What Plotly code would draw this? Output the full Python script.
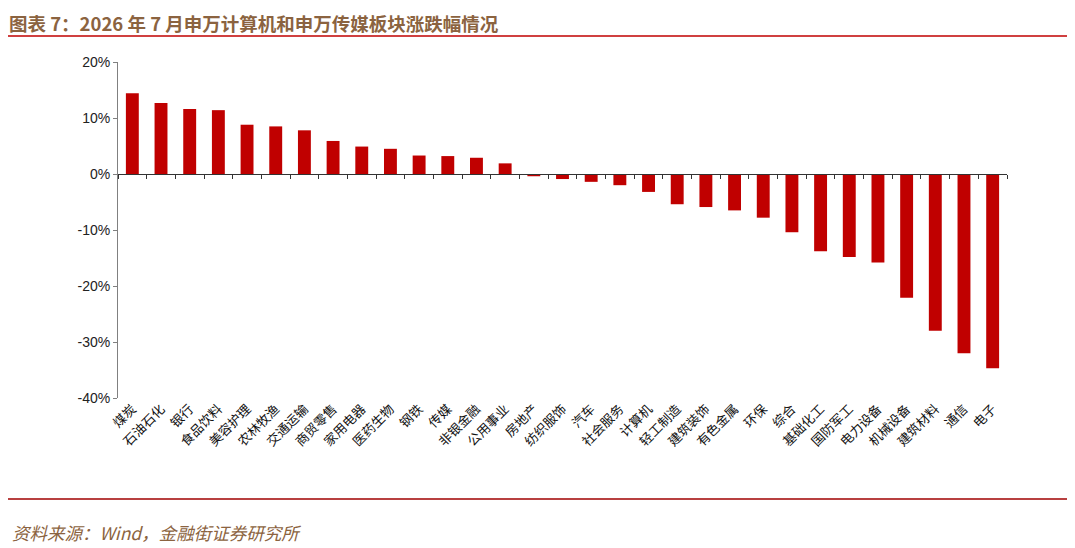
import plotly.graph_objects as go

# 申万一级行业 2026年7月涨跌幅 (%)
industries = ['煤炭', '石油石化', '银行', '食品饮料', '美容护理', '农林牧渔', '交通运输', '商贸零售',
              '家用电器', '医药生物', '钢铁', '传媒', '非银金融', '公用事业', '房地产', '纺织服饰',
              '汽车', '社会服务', '计算机', '轻工制造', '建筑装饰', '有色金属', '环保', '综合',
              '基础化工', '国防军工', '电力设备', '机械设备', '建筑材料', '通信', '电子']
change_pct = [14.4, 12.7, 11.6, 11.4, 8.8, 8.5, 7.8, 5.9,
              4.9, 4.5, 3.3, 3.2, 2.9, 1.9, -0.4, -0.9,
              -1.4, -2.0, -3.2, -5.4, -5.9, -6.5, -7.8, -10.4,
              -13.8, -14.8, -15.8, -22.1, -28.0, -32.0, -34.7]
y_ticks = [20, 10, 0, -10, -20, -30, -40]

title_text = '图表 7：2026 年 7 月申万计算机和申万传媒板块涨跌幅情况'
source_text = '资料来源：Wind，金融街证券研究所'

# page body has an 8px margin, so the figure is a bit smaller and shifted
OFF = 8
W, H = 1075 - OFF, 548 - OFF
L, R, T, B = 118 - OFF, 68, 62 - OFF, 150


# screen pixel -> paper helpers for the decorations outside the plot
def px(x):
    return (x - OFF - L) / (W - L - R)


def py(y):
    return (H - B - (y - OFF)) / (H - B - T)


cjk = 'Noto Sans CJK SC'
brown = '#8B6340'
red = '#C00000'

fig = go.Figure()
fig.add_trace(go.Bar(x=industries, y=change_pct, marker_color=red,
                     marker_line_width=0, showlegend=False))
# dummy trace so the zero-line axis (ticks between categories) is drawn
fig.add_trace(go.Scatter(x=industries, y=[0] * len(industries), xaxis='x2',
                         mode='markers', marker_opacity=0, showlegend=False,
                         hoverinfo='skip'))

fig.update_layout(
    width=W, height=H,
    margin={'l': L, 'r': R, 't': T, 'b': B},
    plot_bgcolor='white', paper_bgcolor='white',
    bargap=0.55,
    xaxis=dict(type='category', range=[-0.5, len(industries) - 0.5],
               tickangle=-45, showline=False, ticks='', showgrid=False,
               tickfont=dict(family=cjk, size=13, color='#111')),
    xaxis2=dict(type='category', overlaying='x', anchor='free',
                position=40 / 60, range=[-0.5, len(industries) - 0.5],
                showline=True, linecolor='#333', linewidth=1,
                ticks='outside', tickson='boundaries', ticklen=4,
                tickcolor='#333', showticklabels=False, showgrid=False),
    yaxis=dict(range=[-40, 20], tickvals=y_ticks,
               ticktext=[f'{v}%' for v in y_ticks],
               showline=True, linecolor='#808080', linewidth=1,
               ticks='outside', ticklen=4, tickcolor='#808080',
               showgrid=False, zeroline=False,
               tickfont=dict(family='Liberation Sans, Arial', size=14, color='#222')),
)

fig.add_annotation(text=f'<b>{title_text}</b>', xref='paper', yref='paper',
                   x=px(8), y=py(8.5), xanchor='left', yanchor='top',
                   borderpad=0, showarrow=False,
                   font=dict(family=cjk, size=18.5, color=brown))
fig.add_annotation(text=f'<i>{source_text}</i>', xref='paper', yref='paper',
                   x=px(10), y=py(532), xanchor='left', yanchor='middle',
                   showarrow=False, font=dict(family=cjk, size=17.5, color=brown))

fig.add_shape(type='line', xref='paper', yref='paper', x0=px(5), x1=px(1070),
              y0=py(36), y1=py(36), line=dict(color=red, width=1.5))
fig.add_shape(type='line', xref='paper', yref='paper', x0=px(5), x1=px(1070),
              y0=py(499), y1=py(499), line=dict(color='#A00000', width=1.5))

fig.write_html('out.html')
